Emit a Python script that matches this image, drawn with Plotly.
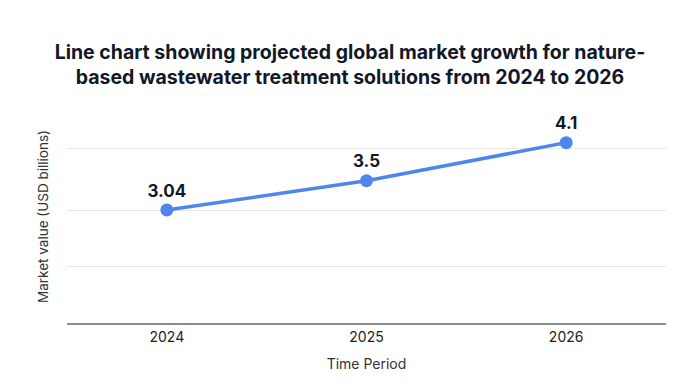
import plotly.graph_objects as go

years = ["2024", "2025", "2026"]
values = [3.04, 3.5, 4.1]
labels = ["3.04", "3.5", "4.1"]

title = ("Line chart showing projected global market growth for nature-<br>"
         "based wastewater treatment solutions from 2024 to 2026")

fig = go.Figure()
fig.add_trace(go.Scatter(
    x=years, y=values, mode="lines+markers+text",
    text=labels, textposition="top center",
    textfont=dict(family="Inter", size=17, color="#111827", weight="bold"),
    line=dict(color="#4F86EE", width=3.5),
    marker=dict(color="#4F86EE", size=13),
    cliponaxis=False, hoverinfo="skip", showlegend=False,
))

fig.update_layout(
    width=700, height=391,
    margin=dict(l=67, r=34, t=110, b=68),
    paper_bgcolor="white", plot_bgcolor="white",
    font=dict(family="Inter", color="#1f2937"),
    title=dict(text=title, x=0.5, xanchor="center", y=0.85, yanchor="top",
               font=dict(family="Inter", size=19.5, color="#111827", weight="bold")),
    xaxis=dict(
        type="category", range=[-0.5, 2.5], showgrid=False,
        showline=True, linecolor="#8a8d93", linewidth=2,
        ticks="", tickfont=dict(size=14, color="#222"),
        title=dict(text="Time Period", font=dict(size=14, color="#333"), standoff=15),
    ),
    yaxis=dict(
        range=[1.26, 4.614], tickvals=[2.142, 3.035, 4.0], showticklabels=False,
        showgrid=True, gridcolor="#e8e8e8", gridwidth=1, zeroline=False,
        title=dict(text="Market value (USD billions)", font=dict(size=13.5, color="#333"), standoff=14),
    ),
)

fig.write_html("out.html")
